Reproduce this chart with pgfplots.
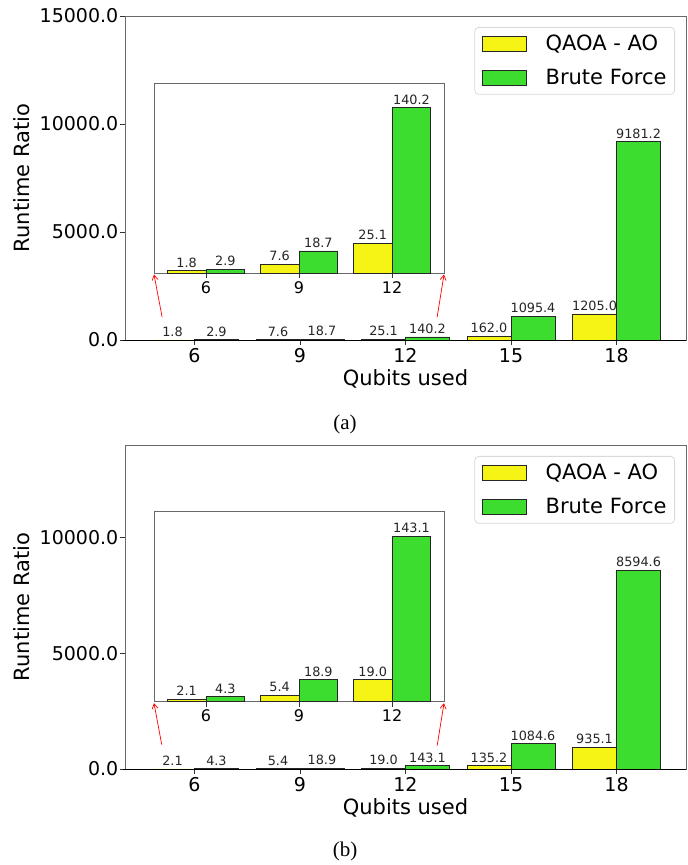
\documentclass[border=0pt]{standalone}
\usepackage{pgfplots}
\pgfplotsset{compat=1.18}
\usepackage{fontspec}
\setmainfont{DejaVu Sans}
\newfontfamily\capfont{Liberation Serif}
\usetikzlibrary{arrows.meta}
\definecolor{yel}{RGB}{246,244,20}
\definecolor{grn}{RGB}{61,221,48}
\definecolor{framec}{RGB}{105,105,105}

\pgfplotsset{
  barcommon/.style={
    scale only axis, anchor=south west, ymin=0,
    ybar, bar width=1.25,
    axis line style={framec, line width=0.9pt},
    tick align=outside, xtick pos=left, ytick pos=left,
    major tick length=5pt,
    tick style={black!80, line width=0.8pt},
    nodes near coords, point meta=explicit symbolic,
    every node near coord/.append style={font=\fontsize{12.8}{13}\selectfont, text=black!85, inner sep=3pt},
    clip=false, scaled y ticks=false, scaled x ticks=false,
  },
  yelbar/.style={fill=yel, draw=black!85, line width=0.9pt, bar shift=-0.625,
    legend image code/.code={\draw[sharp corners, fill=yel, draw=black!85, line width=0.9pt] (0pt,-7.5pt) rectangle (44pt,7.5pt);}},
  grnbar/.style={fill=grn, draw=black!85, line width=0.9pt, bar shift=0.625,
    legend image code/.code={\draw[sharp corners, fill=grn, draw=black!85, line width=0.9pt] (0pt,-7.5pt) rectangle (44pt,7.5pt);}},
  mainax/.style={
    barcommon,
    width=561pt, height=324pt,
    xmin=4.025, xmax=19.975,
    xtick={6,9,12,15,18}, xticklabels={6,9,12,15,18},
    xticklabel style={font=\fontsize{19}{19}\selectfont, inner sep=3pt},
    yticklabel style={font=\fontsize{19}{19}\selectfont, inner sep=1.5pt},
    xlabel={Qubits used}, ylabel={Runtime Ratio},
    every axis x label/.style={at={(axis description cs:0.5,-0.0895)}, anchor=north, inner sep=0pt, font=\fontsize{21}{21}\selectfont},
    every axis y label/.style={at={(axis description cs:-0.1836,0.5)}, rotate=90, anchor=center, inner sep=0pt, font=\fontsize{21}{21}\selectfont},
    legend style={at={(1,1)}, anchor=north east, xshift=-11pt, yshift=-11pt,
      draw=black!15, line width=0.8pt, rounded corners=4pt, fill=white,
      font=\fontsize{21}{21}\selectfont, inner xsep=7pt, inner ysep=7pt,
      row sep=15pt, column sep=18pt, nodes={inner sep=1pt, anchor=west}},
    legend cell align=left,
  },
  insax/.style={
    barcommon,
    width=290pt, height=190pt,
    xmin=4.325, xmax=13.675,
    ytick=\empty,
    xtick={6,9,12}, xticklabels={6,9,12},
    xticklabel style={font=\fontsize{16}{16}\selectfont, inner sep=3pt},
    axis background/.style={fill=white},
  },
}

\begin{document}
\begin{tikzpicture}
\path[use as bounding box] (0,0) rectangle (688pt,865pt);

% ---------- (a) main ----------
\begin{axis}[mainax, at={(125pt,525pt)}, ymax=15000,
  ytick={0,5000,10000,15000}, yticklabels={0.0,5000.0,10000.0,15000.0}]
\addplot[yelbar] coordinates {(6,1.8) [1.8] (9,7.6) [7.6] (12,25.1) [25.1] (15,162.0) [162.0] (18,1205.0) [1205.0]};
\addplot[grnbar] coordinates {(6,2.9) [2.9] (9,18.7) [18.7] (12,140.2) [140.2] (15,1095.4) [1095.4] (18,9181.2) [9181.2]};
\legend{QAOA - AO, Brute Force}
\draw[black, line width=0.9pt] (rel axis cs:-0.003,0) -- (rel axis cs:1,0);
\coordinate (a1) at (axis cs:5.08,1065);
\coordinate (a2) at (axis cs:12.9,1065);
\end{axis}

% ---------- (a) inset ----------
\begin{axis}[insax, name=insA, at={(154pt,592pt)}, ymax=161.2]
\addplot[yelbar] coordinates {(6,1.8) [1.8] (9,7.6) [7.6] (12,25.1) [25.1]};
\addplot[grnbar] coordinates {(6,2.9) [2.9] (9,18.7) [18.7] (12,140.2) [140.2]};
\end{axis}
\draw[red, line width=0.7pt, -{Straight Barb[length=5pt,width=6pt]}] (a1) -- ([yshift=-1.5pt]insA.south west);
\draw[red, line width=0.7pt, -{Straight Barb[length=5pt,width=6pt]}] (a2) -- ([yshift=-1.5pt]insA.south east);

\node[font=\capfont\fontsize{21}{22}\selectfont] at (345pt,441pt) {(a)};

% ---------- (b) main ----------
\begin{axis}[mainax, at={(125pt,96pt)}, ymax=14000,
  ytick={0,5000,10000}, yticklabels={0.0,5000.0,10000.0}]
\addplot[yelbar] coordinates {(6,2.1) [2.1] (9,5.4) [5.4] (12,19.0) [19.0] (15,135.2) [135.2] (18,935.1) [935.1]};
\addplot[grnbar] coordinates {(6,4.3) [4.3] (9,18.9) [18.9] (12,143.1) [143.1] (15,1084.6) [1084.6] (18,8594.6) [8594.6]};
\legend{QAOA - AO, Brute Force}
\draw[black, line width=0.9pt] (rel axis cs:-0.003,0) -- (rel axis cs:1,0);
\coordinate (b1) at (axis cs:5.07,1050);
\coordinate (b2) at (axis cs:12.9,1010);
\end{axis}

% ---------- (b) inset ----------
\begin{axis}[insax, name=insB, at={(154pt,163.3pt)}, ymax=164.6]
\addplot[yelbar] coordinates {(6,2.1) [2.1] (9,5.4) [5.4] (12,19.0) [19.0]};
\addplot[grnbar] coordinates {(6,4.3) [4.3] (9,18.9) [18.9] (12,143.1) [143.1]};
\end{axis}
\draw[red, line width=0.7pt, -{Straight Barb[length=5pt,width=6pt]}] (b1) -- ([yshift=-1.5pt]insB.south west);
\draw[red, line width=0.7pt, -{Straight Barb[length=5pt,width=6pt]}] (b2) -- ([yshift=-1.5pt]insB.south east);

\node[font=\capfont\fontsize{21}{22}\selectfont] at (345pt,14pt) {(b)};
\end{tikzpicture}
\end{document}
